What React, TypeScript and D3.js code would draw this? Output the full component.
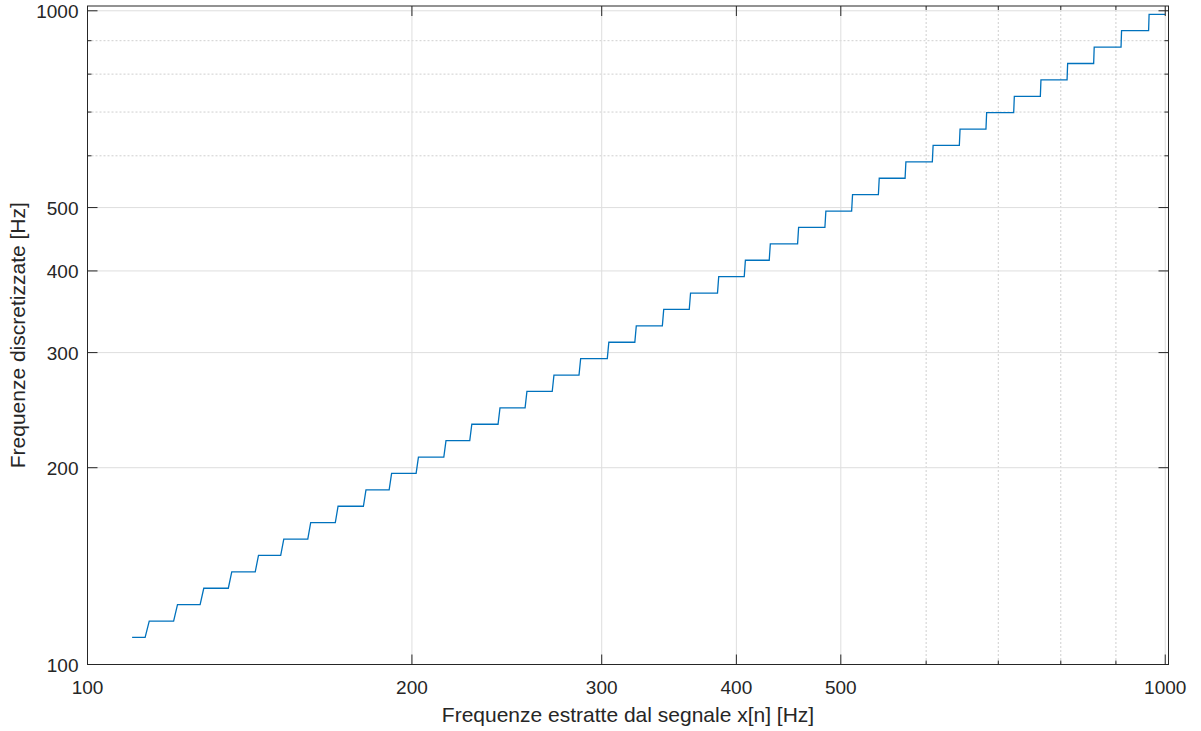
import React from "react";
import * as d3 from "d3";

// ---- data ----
const xTickValues = [100, 200, 300, 400, 500, 1000];
const yTickValues = [100, 200, 300, 400, 500, 1000];
const minorTickValues = [600, 700, 800, 900];
const xDomain = [100, 1007];
const yDomain = [100, 1017];

// quantised output levels (Hz)
const levels = [
  110.0, 116.54, 123.47, 130.81, 138.59, 146.83, 155.56, 164.81, 174.61, 185.0,
  196.0, 207.65, 220.0, 233.08, 246.94, 261.63, 277.18, 293.66, 311.13, 329.63,
  349.23, 369.99, 392.0, 415.3, 440.0, 466.16, 493.88, 523.25, 554.37, 587.33,
  622.25, 659.26, 698.46, 739.99, 783.99, 830.61, 880.0, 932.33, 987.77,
];
// input frequency where the output jumps to the next level (Hz)
const stepAt = [
  113.6, 120.7, 127.7, 135.6, 143.6, 151.6, 160.6, 170.3, 180.8, 191.0,
  202.3, 214.6, 226.8, 240.9, 255.2, 270.4, 286.3, 304.1, 322.5, 342.0,
  362.2, 384.7, 407.3, 429.6, 456.4, 483.8, 512.2, 542.3, 574.1, 608.5,
  644.6, 682.3, 723.9, 766.3, 811.3, 858.7, 910.4, 965.6,
];
const xStart = 110;
const xEnd = 1000;
const sampleHalf = 0.5;

const xLabel = "Frequenze estratte dal segnale x[n] [Hz]";
const yLabel = "Frequenze discretizzate [Hz]";

// ---- layout ----
const W = 1201;
const H = 731;
const L = 87.5;
const R = 1168.5;
const T = 6;
const B = 664.5;
const FONT = "'Liberation Sans', Arial, Helvetica, sans-serif";
const AXIS = "#262626";
const LINE = "#0072BD";

export default function App() {
  const x = d3.scaleLog().domain(xDomain).range([L, R]);
  const y = d3.scaleLog().domain(yDomain).range([B, T]);

  const pts: [number, number][] = [];
  levels.forEach((lv, i) => {
    const s = i === 0 ? xStart : stepAt[i - 1] + sampleHalf;
    const e = i === levels.length - 1 ? xEnd : stepAt[i] - sampleHalf;
    pts.push([s, lv], [e, lv]);
  });
  const line = d3
    .line<[number, number]>()
    .x((d) => x(d[0]))
    .y((d) => y(d[1]));

  const majorLen = 10;
  const minorLen = 4;

  return (
    <svg
      width={W}
      height={H}
      style={{ position: "absolute", left: 0, top: 0, background: "#fff" }}
      fontFamily={FONT}
    >
      <rect x={0} y={0} width={W} height={H} fill="#fff" />
      {/* minor grid */}
      {minorTickValues.map((v) => (
        <g key={"mg" + v}>
          <line x1={x(v)} x2={x(v)} y1={T} y2={B} stroke="#cfcfcf" strokeWidth={1} strokeDasharray="2,2" />
          <line x1={L} x2={R} y1={y(v)} y2={y(v)} stroke="#cfcfcf" strokeWidth={1} strokeDasharray="2,2" />
        </g>
      ))}
      {/* major grid */}
      {xTickValues.map((v) => (
        <line key={"gx" + v} x1={x(v)} x2={x(v)} y1={T} y2={B} stroke="#dedede" strokeWidth={1} />
      ))}
      {yTickValues.map((v) => (
        <line key={"gy" + v} x1={L} x2={R} y1={y(v)} y2={y(v)} stroke="#dedede" strokeWidth={1} />
      ))}

      {/* data */}
      <path d={line(pts) || ""} fill="none" stroke={LINE} strokeWidth={1.3} />

      {/* ticks */}
      {xTickValues.map((v) => (
        <g key={"tx" + v}>
          <line x1={x(v)} x2={x(v)} y1={B} y2={B - majorLen} stroke={AXIS} strokeWidth={1} />
          <line x1={x(v)} x2={x(v)} y1={T} y2={T + majorLen} stroke={AXIS} strokeWidth={1} />
          <text x={x(v)} y={694} textAnchor="middle" fontSize={19} fill={AXIS}>
            {v}
          </text>
        </g>
      ))}
      {yTickValues.map((v) => (
        <g key={"ty" + v}>
          <line x1={L} x2={L + majorLen} y1={y(v)} y2={y(v)} stroke={AXIS} strokeWidth={1} />
          <line x1={R} x2={R - majorLen} y1={y(v)} y2={y(v)} stroke={AXIS} strokeWidth={1} />
          <text x={78.5} y={y(v) + 7} textAnchor="end" fontSize={19} fill={AXIS}>
            {v}
          </text>
        </g>
      ))}
      {minorTickValues.map((v) => (
        <g key={"mt" + v}>
          <line x1={x(v)} x2={x(v)} y1={B} y2={B - minorLen} stroke={AXIS} strokeWidth={1} />
          <line x1={x(v)} x2={x(v)} y1={T} y2={T + minorLen} stroke={AXIS} strokeWidth={1} />
          <line x1={L} x2={L + minorLen} y1={y(v)} y2={y(v)} stroke={AXIS} strokeWidth={1} />
          <line x1={R} x2={R - minorLen} y1={y(v)} y2={y(v)} stroke={AXIS} strokeWidth={1} />
        </g>
      ))}

      {/* box */}
      <rect x={L} y={T} width={R - L} height={B - T} fill="none" stroke={AXIS} strokeWidth={1} />

      {/* labels */}
      <text x={(L + R) / 2} y={721.5} textAnchor="middle" fontSize={21} fill={AXIS}>
        {xLabel}
      </text>
      <text
        transform={`translate(25,${(T + B) / 2}) rotate(-90)`}
        textAnchor="middle"
        fontSize={21}
        fill={AXIS}
      >
        {yLabel}
      </text>
    </svg>
  );
}
